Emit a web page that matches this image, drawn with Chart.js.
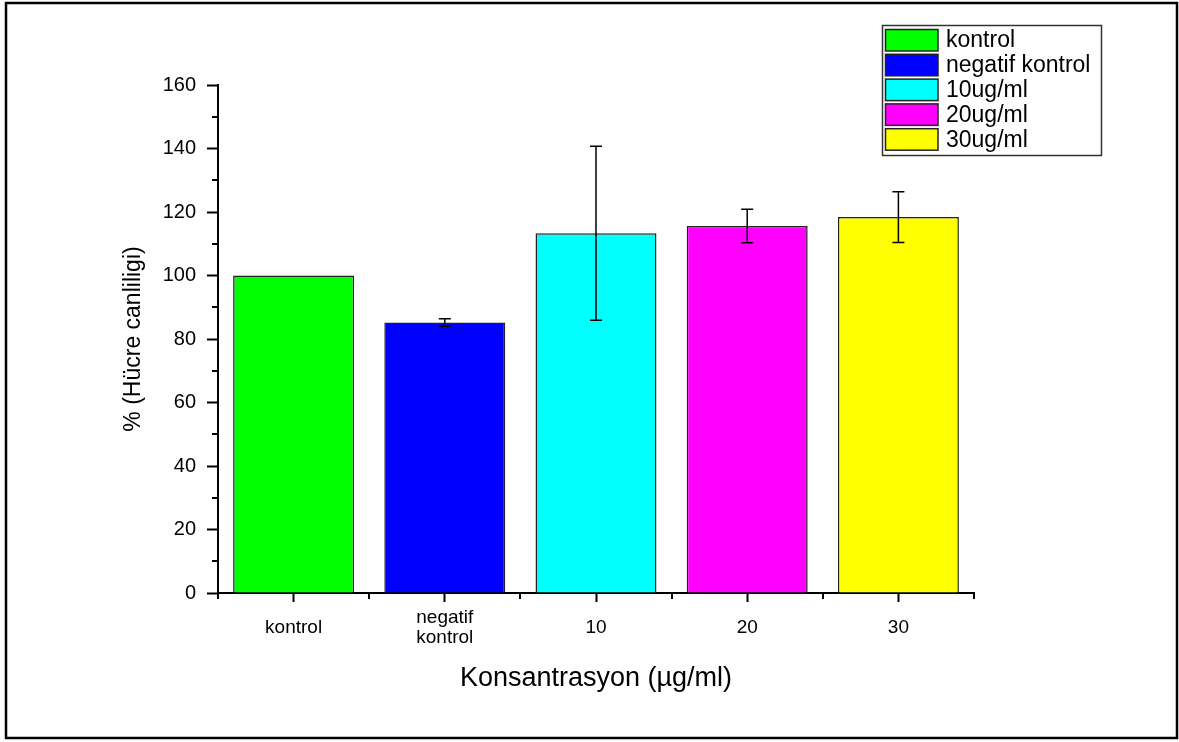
<!DOCTYPE html>
<html>
<head>
<meta charset="utf-8">
<script src="https://cdn.jsdelivr.net/npm/chart.js@4.4.1/dist/chart.umd.min.js"></script>
<style>
  html, body { margin: 0; padding: 0; background: #fff; }
  canvas { display: block; }
</style>
</head>
<body>
<canvas id="c" width="1179" height="742"></canvas>
<script>
// ---- data ----
const categories = ['kontrol', ['negatif', 'kontrol'], '10', '20', '30'];
const legendLabels = ['kontrol', 'negatif kontrol', '10ug/ml', '20ug/ml', '30ug/ml'];
const viability = [100, 85.2, 113.3, 115.6, 118.4];
const errors = [0, 1.2, 27.4, 5.3, 8.0];
const barColors = ['#00FF00', '#0000FF', '#00FFFF', '#FF00FF', '#FFFF00'];
const yTicks = [0, 20, 40, 60, 80, 100, 120, 140, 160];

const FONT = "'Liberation Sans', Arial, Helvetica, sans-serif";

const framePlugin = {
  id: 'frame',
  beforeDraw(chart) {
    const ctx = chart.ctx;
    ctx.save();
    ctx.fillStyle = '#fff';
    ctx.fillRect(0, 0, chart.width, chart.height);
    ctx.strokeStyle = '#000';
    ctx.lineWidth = 2.5;
    ctx.strokeRect(6, 3, 1171, 735);
    ctx.restore();
  }
};

const errorBarPlugin = {
  id: 'errorBars',
  afterDatasetsDraw(chart) {
    const ctx = chart.ctx;
    const y = chart.scales.y;
    const meta = chart.getDatasetMeta(0);
    ctx.save();
    ctx.strokeStyle = '#000';
    ctx.lineWidth = 1.5;
    meta.data.forEach((bar, i) => {
      const e = errors[i];
      if (!e) return;
      const yt = y.getPixelForValue(viability[i] + e);
      const yb = y.getPixelForValue(viability[i] - e);
      const x = bar.x;
      ctx.beginPath();
      ctx.moveTo(x, yt); ctx.lineTo(x, yb);
      ctx.moveTo(x - 6, yt); ctx.lineTo(x + 6, yt);
      ctx.moveTo(x - 6, yb); ctx.lineTo(x + 6, yb);
      ctx.stroke();
    });
    ctx.restore();
  }
};

const minorTickPlugin = {
  id: 'minorTicks',
  afterDraw(chart) {
    const ctx = chart.ctx;
    const xs = chart.scales.x, ys = chart.scales.y;
    const area = chart.chartArea;
    ctx.save();
    ctx.strokeStyle = '#000';
    ctx.lineWidth = 2;
    ctx.beginPath();
    for (let k = 0; k < yTicks.length - 1; k++) {
      const v = (yTicks[k] + yTicks[k + 1]) / 2;
      const py = Math.round(ys.getPixelForValue(v));
      ctx.moveTo(area.left - 6, py); ctx.lineTo(area.left, py);
    }
    for (let i = 0; i <= categories.length; i++) {
      const px = Math.round(xs.getPixelForValue(i - 0.5));
      ctx.moveTo(px, area.bottom); ctx.lineTo(px, area.bottom + 6);
    }
    ctx.stroke();
    ctx.restore();
  }
};

const legendPlugin = {
  id: 'boxLegend',
  afterDraw(chart) {
    const ctx = chart.ctx;
    const ds = chart.data.datasets[0];
    ctx.save();
    ctx.strokeStyle = '#333';
    ctx.lineWidth = 1.5;
    ctx.strokeRect(882.5, 25.5, 219, 130);
    ctx.font = '23px ' + FONT;
    ctx.textBaseline = 'middle';
    ctx.textAlign = 'left';
    legendLabels.forEach((lab, i) => {
      const cy = 40 + i * 24.8;
      ctx.fillStyle = ds.backgroundColor[i];
      ctx.fillRect(885.5, cy - 10.5, 52.5, 21.5);
      ctx.strokeStyle = '#222';
      ctx.lineWidth = 1.5;
      ctx.strokeRect(885.5, cy - 10.5, 52.5, 21.5);
      ctx.fillStyle = '#000';
      ctx.fillText(lab, 946, cy + 1);
    });
    ctx.restore();
  }
};

new Chart(document.getElementById('c'), {
  type: 'bar',
  data: {
    labels: categories,
    datasets: [{
      label: '% (Hücre canliligi)',
      data: viability,
      backgroundColor: barColors,
      borderColor: '#222',
      borderWidth: 1.5,
      barPercentage: 0.8,
      categoryPercentage: 1.0
    }]
  },
  options: {
    responsive: false,
    animation: false,
    devicePixelRatio: 1,
    layout: { padding: { left: 120, top: 85, right: 205, bottom: 0 } },
    plugins: { legend: { display: false }, tooltip: { enabled: false } },
    scales: {
      x: {
        offset: true,
        afterFit(scale) { scale.height = 149; },
        grid: { display: true, drawOnChartArea: false, drawTicks: true, tickLength: 9, tickWidth: 2, tickColor: '#000', offset: false },
        border: { display: true, color: '#000', width: 2 },
        ticks: {
          color: '#000', padding: 16, maxRotation: 0, autoSkip: false,
          crossAlign: 'center',
          font: { family: FONT, size: 19, lineHeight: 1.05 }
        },
        title: {
          display: true, text: 'Konsantrasyon (µg/ml)', color: '#000',
          font: { family: FONT, size: 27 }, padding: { top: 0, bottom: 47 }
        }
      },
      y: {
        min: 0, max: 160,
        afterFit(scale) { scale.width = 98; },
        afterBuildTicks(scale) { scale.ticks = yTicks.map(v => ({ value: v })); },
        grid: { display: true, drawOnChartArea: false, drawTicks: true, tickLength: 11, tickWidth: 2, tickColor: '#000' },
        border: { display: true, color: '#000', width: 2 },
        ticks: { color: '#000', padding: 11, font: { family: FONT, size: 20 } },
        title: {
          display: true, text: '% (Hücre canliligi)', color: '#000',
          font: { family: FONT, size: 23 }, padding: { top: 0, bottom: 0 }
        }
      }
    }
  },
  plugins: [framePlugin, errorBarPlugin, minorTickPlugin, legendPlugin]
});
</script>
</body>
</html>
